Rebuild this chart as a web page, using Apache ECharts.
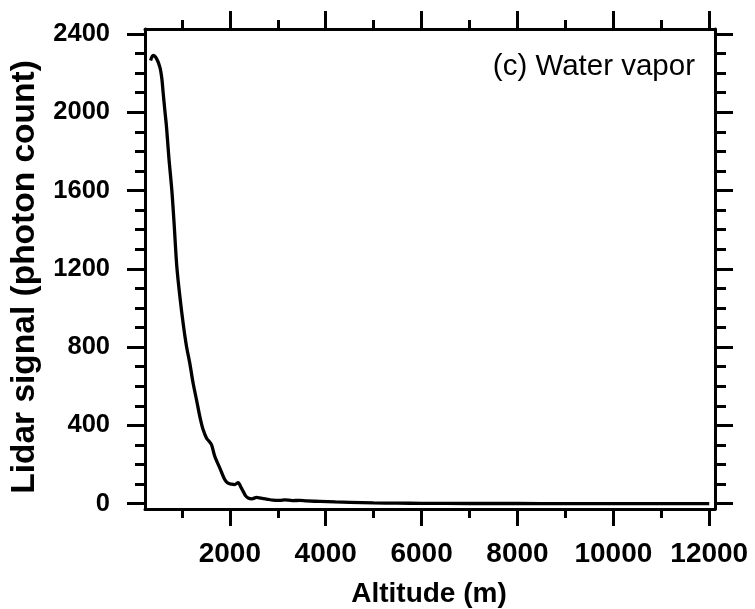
<!DOCTYPE html>
<html>
<head>
<meta charset="utf-8">
<script src="https://cdn.jsdelivr.net/npm/echarts@6/dist/echarts.min.js"></script>
<style>
html,body{margin:0;padding:0;background:#fff;}
#chart{width:755px;height:609px;}
</style>
</head>
<body>
<div id="chart"></div>
<script>
// Data
const altitude = [346, 400, 471, 540, 581, 608, 644, 679, 727, 790, 840, 894, 957, 1026, 1097, 1165, 1234, 1305, 1374, 1440, 1514, 1570, 1618, 1687, 1791, 1896, 1960, 2035, 2100, 2173, 2230, 2278, 2330, 2382, 2460, 2557, 2650, 2766, 2900, 3043, 3148, 3300, 3460, 3600, 3878, 4200, 4504, 5000, 5500, 6000, 7000, 8000, 9000, 10000, 11000, 12000];
const signal = [2264, 2290, 2274, 2230, 2172, 2101, 2009, 1924, 1770, 1600, 1420, 1210, 1060, 921, 802, 717, 615, 530, 445, 380, 335, 318, 301, 241, 182, 122, 105, 100, 98, 108, 85, 63, 40, 29, 25, 32, 28, 24, 18, 17, 20, 16, 17, 14, 12, 9, 7, 4, 3, 2, 1, 1, 0, 0, 0, 0];

const xMajorTicks = [2000, 4000, 6000, 8000, 10000, 12000];
const xMinorTicks = [1000, 3000, 5000, 7000, 9000, 11000];
const yMajorTicks = [0, 400, 800, 1200, 1600, 2000, 2400];
const yMinorTicks = [100, 200, 300, 500, 600, 700, 900, 1000, 1100, 1300, 1400, 1500, 1700, 1800, 1900, 2100, 2200, 2300];

const xTitle = 'Altitude (m)';
const yTitle = 'Lidar signal (photon count)';
const panelLabel = '(c) Water vapor';

const X_MIN = 230, X_MAX = 12120, Y_MIN = -27, Y_MAX = 2425;
const FONT = 'Liberation Sans, Arial, sans-serif';

function mkX(pos, ticks, len, showLine, showLabel) {
  return {
    type: 'value', position: pos, min: X_MIN, max: X_MAX, gridIndex: 0,
    axisLine: { show: showLine, onZero: false, lineStyle: { color: '#000', width: 3 } },
    axisTick: { show: true, inside: false, length: len, customValues: ticks, lineStyle: { color: '#000', width: 3 } },
    axisLabel: showLabel ? { show: true, customValues: ticks, formatter: v => String(v), margin: 31, fontSize: 28, fontWeight: 'bold', fontFamily: FONT, color: '#000' } : { show: false },
    splitLine: { show: false }
  };
}
function mkY(pos, ticks, len, showLine, showLabel) {
  return {
    type: 'value', position: pos, min: Y_MIN, max: Y_MAX, gridIndex: 0,
    axisLine: { show: showLine, onZero: false, lineStyle: { color: '#000', width: 3 } },
    axisTick: { show: true, inside: false, length: len, customValues: ticks, lineStyle: { color: '#000', width: 3 } },
    axisLabel: showLabel ? { show: true, customValues: ticks, formatter: v => String(v), margin: 35, fontSize: 25.5, fontWeight: 'bold', fontFamily: FONT, color: '#000' } : { show: false },
    splitLine: { show: false }
  };
}

const chart = echarts.init(document.getElementById('chart'), null, { renderer: 'canvas' });
chart.setOption({
  backgroundColor: '#fff',
  animation: false,
  grid: { left: 145, right: 40, top: 29, bottom: 100, containLabel: false },
  xAxis: [
    mkX('bottom', xMajorTicks, 17, true, true),
    mkX('bottom', xMinorTicks, 9, false, false),
    mkX('top', xMajorTicks, 18, true, false),
    mkX('top', xMinorTicks, 9, false, false)
  ],
  yAxis: [
    mkY('left', yMajorTicks, 18, true, true),
    mkY('left', yMinorTicks, 10, false, false),
    mkY('right', yMajorTicks, 18, true, false),
    mkY('right', yMinorTicks, 11, false, false)
  ],
  series: [{
    type: 'line',
    xAxisIndex: 0, yAxisIndex: 0,
    data: altitude.map((a, i) => [a, signal[i]]),
    showSymbol: false, symbol: 'none',
    smooth: 0.3,
    lineStyle: { color: '#000', width: 3.3 },
    clip: true
  }],
  graphic: [
    { type: 'text', x: 429, y: 594, style: { text: xTitle, textAlign: 'center', textVerticalAlign: 'middle', fontSize: 28, fontWeight: 'bold', fontFamily: FONT, fill: '#000' } },
    { type: 'text', x: 25, y: 277, rotation: Math.PI / 2, style: { text: yTitle, textAlign: 'center', textVerticalAlign: 'middle', fontSize: 33.5, fontWeight: 'bold', fontFamily: FONT, fill: '#000' } },
    { type: 'text', x: 695, y: 67, style: { text: panelLabel, textAlign: 'right', textVerticalAlign: 'middle', fontSize: 29.5, fontFamily: FONT, fill: '#000' } }
  ]
});
</script>
</body>
</html>
